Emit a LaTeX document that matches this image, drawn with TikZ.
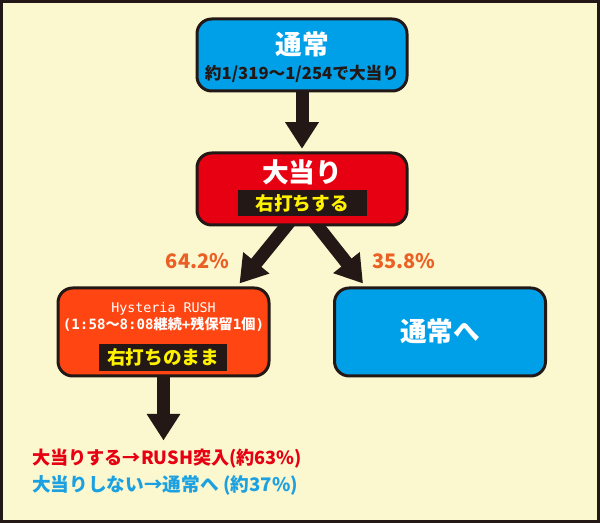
\documentclass[tikz,border=0pt]{standalone}
\usepackage{fontspec}
\setmainfont{Noto Sans CJK JP}
\newfontfamily\monofont{DejaVu Sans Mono}
\usetikzlibrary{positioning, calc, arrows.meta, backgrounds}
\definecolor{cream}{HTML}{FBF7CF}
\definecolor{dark}{HTML}{231815}
\definecolor{boxblue}{HTML}{00A0E9}
\definecolor{boxred}{HTML}{E60012}
\definecolor{rushred}{HTML}{FF4612}
\definecolor{rateorange}{HTML}{EB6125}
\definecolor{noteblue}{HTML}{1BA1E2}
\definecolor{tagyellow}{HTML}{FFF100}
\tikzstyle{Arrow} = [
%thick dark arrow with a wide head
draw=dark, line width=9.75pt,
-{Triangle[width=24pt, length=20pt]}
]

\begin{document}
\begin{tikzpicture}[x=0.75pt, y=-0.75pt,
			box/.style = {draw=dark, line width=2.25pt, rounded corners=11pt, minimum width=157.5pt, minimum height=54pt},
			widebox/.style = {box, minimum width=158.25pt, minimum height=66pt},
			title/.style = {text=white, font=\bfseries\fontsize{20}{24}\selectfont},
			tag/.style = {fill=dark, text=tagyellow, inner sep=0pt, font=\bfseries\fontsize{14}{16}\selectfont},
			rate/.style = {text=rateorange, font=\bfseries\fontsize{15}{18}\selectfont},
			note/.style = {anchor=west, inner sep=0pt, font=\bfseries\fontsize{14}{16}\selectfont},
		]
		\useasboundingbox (0,0) rectangle (600,523);
		\node[box, fill=boxblue](normal) at (302,55){};
		\node[title](normalT) at (302,44){通常};
		\node[text=dark, font=\bfseries\fontsize{12.5}{14}\selectfont](normalS) at (302,73.5){約1/319～1/254で大当り};

		\node[box, fill=boxred](hit) at (302,189){};
		\node[title](hitT) at (302,172){大当り};
		\node[tag, minimum width=96.75pt, minimum height=19.5pt](hitTag) at (302,203){右打ちする};

		\node[widebox, fill=rushred](rush) at (163.5,332){};
		\node[text=white, font=\monofont\fontsize{10}{12}\selectfont](rushT) at (163.5,308.5){Hysteria RUSH};
		\node[text=white, font=\bfseries\fontsize{10.6}{12}\selectfont](rushS) at (163.5,324.5){{\monofont (1:58}～{\monofont 8:08}継続{\monofont +}残保留{\monofont 1}個{\monofont )}};
		\node[tag, minimum width=96pt, minimum height=20.25pt](rushTag) at (163,357.5){右打ちのまま};

		\node[widebox, fill=boxblue](back) at (440,332){};
		\node[title](backT) at (440,331.5){通常へ};

		\node[rate](rateL) at (197.5,261.5){64.2\%};
		\node[rate](rateR) at (404,261.5){35.8\%};

		\node[note, text=boxred, font=\bfseries\fontsize{13.6}{16}\selectfont](noteHit) at (32,459){大当りする→RUSH突入(約63\%)};
		\node[note, text=noteblue](noteMiss) at (32,485){大当りしない→通常へ (約37\%)};
		\coordinate(rushEnd) at ($(rush.south)+(0,63)$);

		\begin{scope}[on background layer]
			\draw[dark, line width=2.25pt, fill=cream](1.5,1.5) rectangle (598.5,521.5);
			\draw[Arrow](normal.south)--([yshift=2pt]hit.north);
			\draw[Arrow]($(hit.south)+(-8,-10)$)--($(rush.north east)+(-31,-3)$);
			\draw[Arrow]($(hit.south)+(8,-10)$)--($(back.north west)+(30,-3)$);
			\draw[Arrow]($(rush.south)+(0,-6)$)--(rushEnd);
		\end{scope}
	\end{tikzpicture}
\end{document}
